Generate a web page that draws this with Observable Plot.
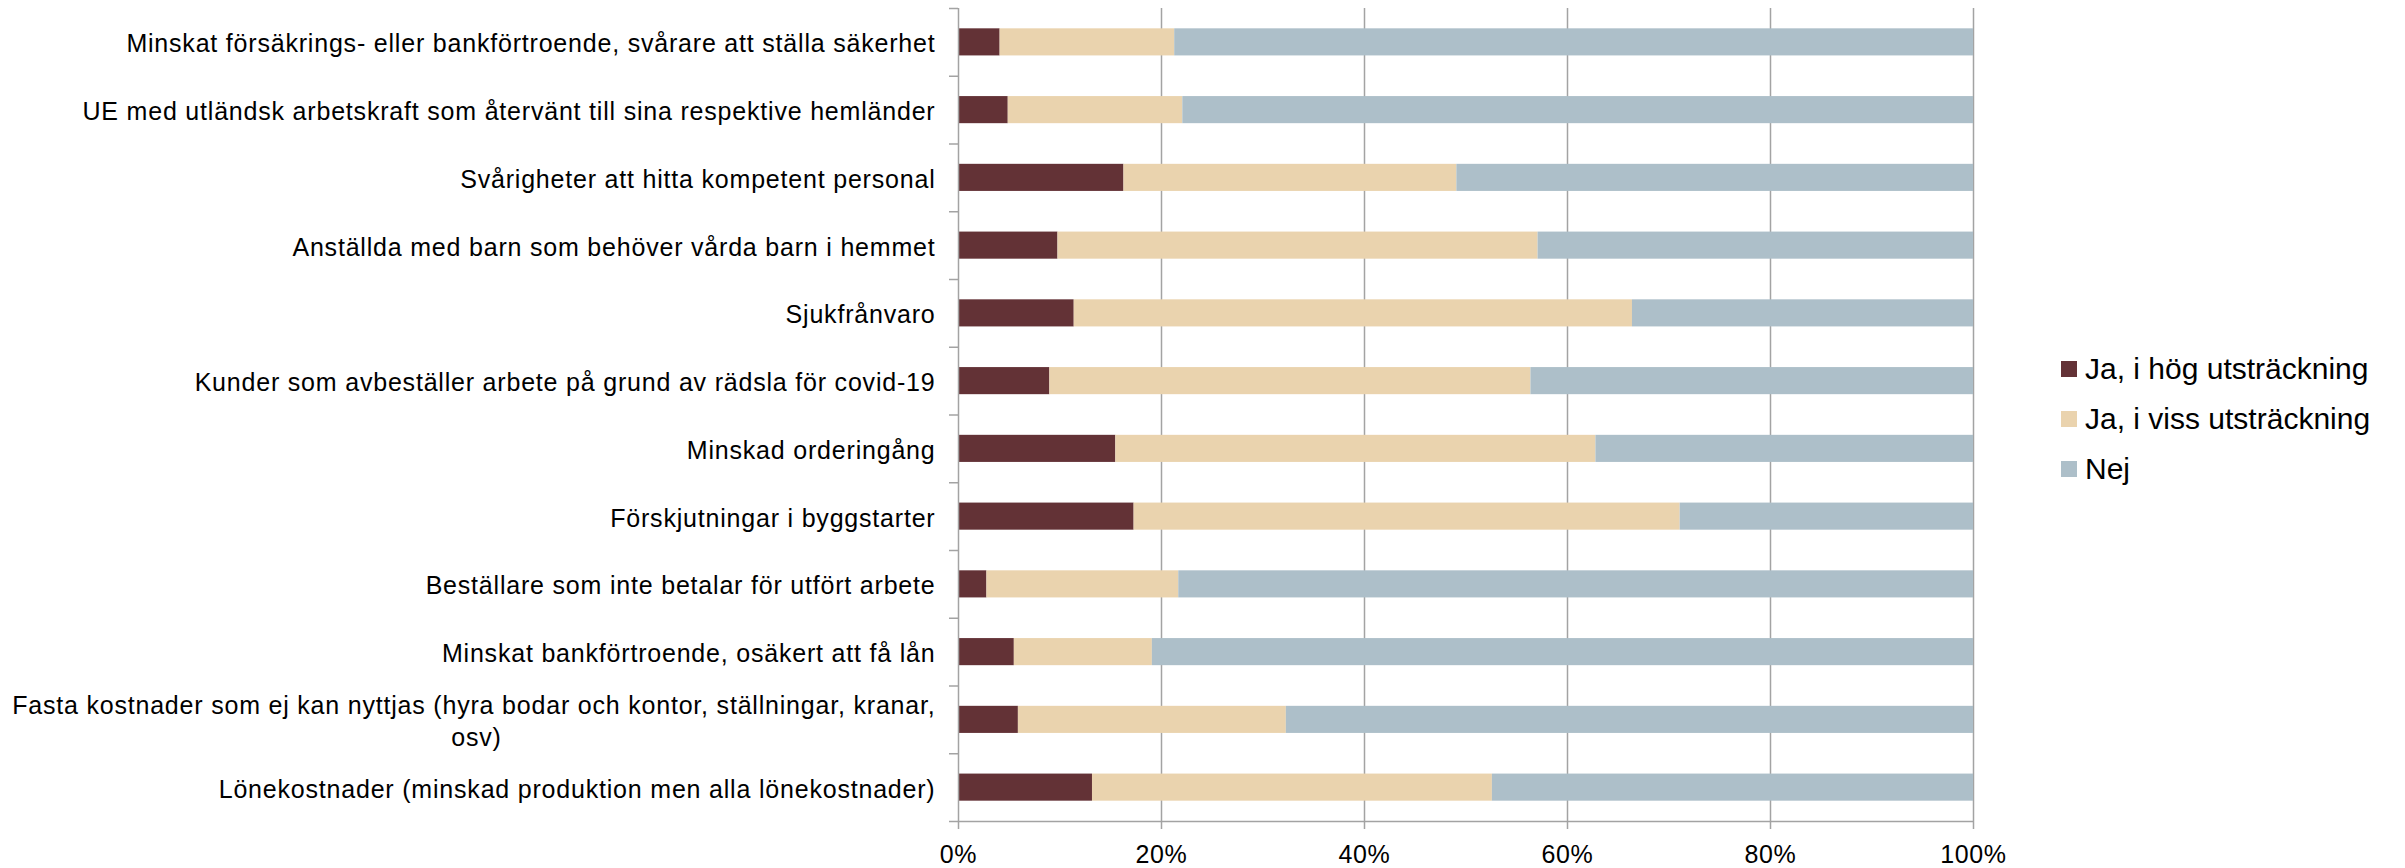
<!DOCTYPE html>
<html><head><meta charset="utf-8">
<script src="https://cdn.jsdelivr.net/npm/d3@7"></script>
<script src="https://cdn.jsdelivr.net/npm/@observablehq/plot@0.6"></script>
<style>
body{margin:0;background:#fff;font-family:"Liberation Sans",Arial,sans-serif;}
#wrap{position:relative;width:2405px;height:868px;overflow:hidden;}
#chart svg{display:block;}
#legend{position:absolute;left:2061px;top:344px;}
.item{display:flex;align-items:center;height:50px;font-size:30px;color:#000;white-space:nowrap;}
.sw{width:16px;height:16px;margin-right:8px;flex:none;}
.ylab text{letter-spacing:0.8px;}
.xlab text{letter-spacing:0.6px;}
</style></head><body>
<div id="wrap"><div id="chart"></div><div id="legend"></div></div>
<script>
const categories = [
  "Minskat försäkrings- eller bankförtroende, svårare att ställa säkerhet",
  "UE med utländsk arbetskraft som återvänt till sina respektive hemländer",
  "Svårigheter att hitta kompetent personal",
  "Anställda med barn som behöver vårda barn i hemmet",
  "Sjukfrånvaro",
  "Kunder som avbeställer arbete på grund av rädsla för covid-19",
  "Minskad orderingång",
  "Förskjutningar i byggstarter",
  "Beställare som inte betalar för utfört arbete",
  "Minskat bankförtroende, osäkert att få lån",
  "Fasta kostnader som ej kan nyttjas (hyra bodar och kontor, ställningar, kranar, osv)",
  "Lönekostnader (minskad produktion men alla lönekostnader)"
];
const wrappedLabels = {
  "Fasta kostnader som ej kan nyttjas (hyra bodar och kontor, ställningar, kranar, osv)":
    ["Fasta kostnader som ej kan nyttjas (hyra bodar och kontor, ställningar, kranar,", "osv)"]
};
const hog  = [4.1, 4.9, 16.3, 9.8, 11.4, 9.0, 15.5, 17.3, 2.8, 5.5, 5.9, 13.2];
const viss = [17.2, 17.2, 32.8, 47.3, 55.0, 47.4, 47.3, 53.8, 18.9, 13.6, 26.4, 39.4];
const nej  = [78.7, 77.9, 50.9, 42.9, 33.6, 43.6, 37.2, 28.9, 78.3, 80.9, 67.7, 47.4];
const seriesNames = ["Ja, i hög utsträckning", "Ja, i viss utsträckning", "Nej"];
const seriesColors = ["#633236", "#EAD3AE", "#ADBFC9"];
const xTicks = [0, 20, 40, 60, 80, 100];

const seriesValues = [hog, viss, nej];
const rows = [];
seriesNames.forEach((s, si) => categories.forEach((c, ci) => rows.push({cat: c, series: s, value: seriesValues[si][ci]})));

const LS = 0.8;
const ctx = document.createElement("canvas").getContext("2d");
ctx.font = "25px 'Liberation Sans', Arial, sans-serif";
const mw = s => ctx.measureText(s).width + LS * [...s].length;
function fmtLabel(c) {
  const w = wrappedLabels[c];
  if (!w) return c;
  const w1 = mw(w[0]), w2 = mw(w[1]);
  const nb = mw("\u00a0");
  const n = Math.max(0, Math.round((w1 - w2) / 2 / nb));
  return w[0] + "\n" + w[1] + "\u00a0".repeat(n);
}

const W = 2405, H = 868, mT = 8, mB = 47;
const step = (H - mT - mB) / categories.length;
const gray = "#a3a3a3";

const chart = Plot.plot({
  width: W, height: H,
  marginLeft: 958, marginRight: 432, marginTop: mT, marginBottom: mB,
  style: {fontFamily: "'Liberation Sans', Arial, sans-serif", fontSize: "25px", color: "#000", background: "#fff"},
  x: {domain: [0, 100], label: null},
  y: {domain: categories, paddingInner: 0.6, paddingOuter: 0.3, round: false, label: null},
  color: {domain: seriesNames, range: seriesColors},
  marks: [
    Plot.gridX(xTicks.slice(1), {stroke: gray, strokeOpacity: 1, strokeWidth: 1.5}),
    Plot.barX(rows, Plot.stackX({x: "value", y: "cat", fill: "series"})),
    Plot.ruleX([0], {stroke: gray, strokeWidth: 1.5}),
    Plot.tickY([categories[categories.length - 1]], {y: d => d, dy: step / 2, stroke: gray, strokeWidth: 1.5}),
    Plot.axisX({ticks: xTicks, tickFormat: d => d + "%", tickSize: 8, tickPadding: 16, fontSize: 25, stroke: gray, strokeWidth: 1.5, fill: "#000", label: null, className: "xlab"}),
    Plot.axisY({tickSize: 0, tickPadding: 23, tickFormat: fmtLabel, fontSize: 25, lineHeight: 1.25, fill: "#000", label: null, className: "ylab"}),
    Plot.axisY({tickSize: 9, dy: -step / 2, stroke: gray, strokeWidth: 1.5, fill: "none", label: null}),
    Plot.axisY({ticks: [categories[categories.length - 1]], tickSize: 9, dy: step / 2, stroke: gray, strokeWidth: 1.5, fill: "none", label: null})
  ]
});
document.getElementById("chart").appendChild(chart);

const legend = document.getElementById("legend");
seriesNames.forEach((s, i) => {
  const item = document.createElement("div");
  item.className = "item";
  const sw = document.createElement("span");
  sw.className = "sw";
  sw.style.background = seriesColors[i];
  const t = document.createElement("span");
  t.textContent = s;
  item.appendChild(sw); item.appendChild(t);
  legend.appendChild(item);
});
</script>
</body></html>
